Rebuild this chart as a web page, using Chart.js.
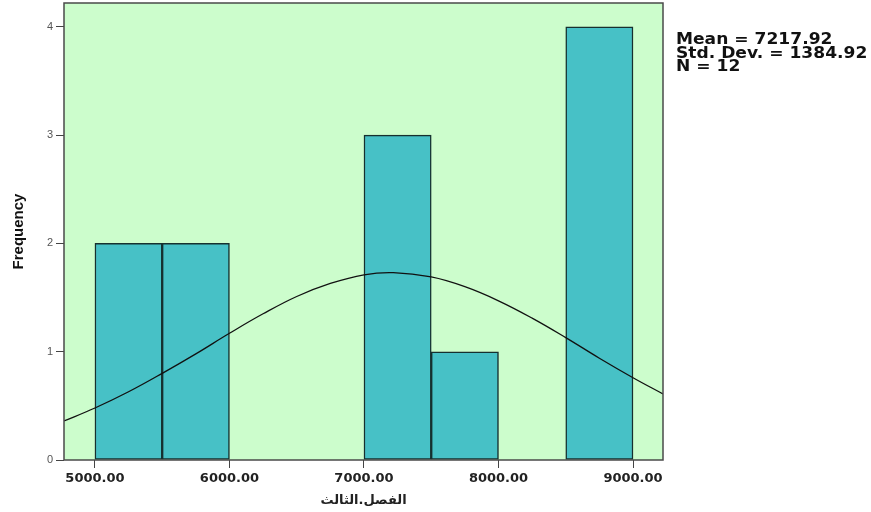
<!DOCTYPE html>
<html>
<head>
<meta charset="utf-8">
<script src="https://cdn.jsdelivr.net/npm/chart.js@4.4.1/dist/chart.umd.min.js"></script>
<style>
  html, body { margin: 0; padding: 0; background: #fff; }
  #wrap { position: relative; width: 871px; height: 512px; }
  #stats {
    position: absolute; left: 676px; top: 33px;
    font: bold 15px "DejaVu Sans", sans-serif; line-height: 13.5px;
    color: #111; white-space: nowrap;
    transform: scaleX(1.14); transform-origin: left top;
  }
</style>
</head>
<body>
<div id="wrap">
  <canvas id="grafico" width="871" height="512"></canvas>
  <div id="stats">Mean = 7217.92<br>Std. Dev. = 1384.92<br>N = 12</div>
</div>
<script>
// histogram bins (centre of each 500 wide bin) and counts
const binCentros = [5250, 5750, 7250, 7750, 8750];
const frecuencias = [2, 2, 3, 1, 4];
// normal curve, values
const curvaX = [4770, 5000, 5250, 5500, 5750, 6000, 6250, 6500, 6750, 7000, 7218, 7500, 7750, 8000, 8250, 8500, 8750, 9000, 9223];
const curvaY = [0.36, 0.48, 0.63, 0.80, 0.98, 1.17, 1.35, 1.51, 1.63, 1.71, 1.73, 1.69, 1.60, 1.47, 1.31, 1.13, 0.94, 0.76, 0.61];
const ticksX = [5000, 6000, 7000, 8000, 9000];
const ticksY = [0, 1, 2, 3, 4];
const tituloX = 'الفصل.الثالث';
const tituloY = 'Frequency';

const fondoPlot = {
  id: 'fondoPlot',
  beforeDatasetsDraw(chart) {
    const { ctx, chartArea: a } = chart;
    ctx.save();
    ctx.fillStyle = '#ccfdcc';
    ctx.fillRect(a.left, a.top, a.right - a.left, a.bottom - a.top);
    ctx.restore();
  },
  afterDraw(chart) {
    const { ctx, chartArea: a } = chart;
    ctx.save();
    ctx.strokeStyle = '#4a4a4a';
    ctx.lineWidth = 1.5;
    ctx.strokeRect(a.left, a.top, a.right - a.left, a.bottom - a.top);
    ctx.restore();
  }
};

const ctx = document.getElementById('grafico').getContext('2d');
const grafico = new Chart(ctx, {
  type: 'bar',
  data: {
    datasets: [
      {
        type: 'line',
        data: curvaX.map((x, i) => ({ x: x, y: curvaY[i] })),
        borderColor: '#111',
        borderWidth: 1.3,
        pointRadius: 0,
        tension: 0.4,
        fill: false,
        order: 0
      },
      {
        type: 'bar',
        data: binCentros.map((x, i) => ({ x: x, y: frecuencias[i] })),
        backgroundColor: '#47c1c6',
        borderColor: '#16302f',
        borderWidth: 1.5,
        borderSkipped: false,
        barPercentage: 1,
        categoryPercentage: 1,
        order: 1
      }
    ]
  },
  plugins: [fondoPlot],
  options: {
    responsive: false,
    animation: false,
    layout: { padding: { left: 0, top: 3, right: 208, bottom: 0 } },
    plugins: { legend: { display: false }, tooltip: { enabled: false } },
    scales: {
      x: {
        type: 'linear',
        offset: false,
        min: 4770,
        max: 9223,
        afterBuildTicks: (axis) => { axis.ticks = ticksX.map(v => ({ value: v })); },
        afterFit: (axis) => { axis.height = 52; axis.paddingLeft = 0; axis.paddingRight = 0; },
        grid: { offset: false, drawOnChartArea: false, drawTicks: true, tickLength: 8, color: '#444' },
        border: { display: false },
        ticks: {
          padding: 3,
          maxRotation: 0,
          color: '#222',
          font: { family: 'DejaVu Sans', size: 13, weight: 'bold' },
          callback: (v) => Number(v).toFixed(2)
        },
        title: {
          display: true,
          text: tituloX,
          color: '#222',
          padding: { top: 2, bottom: 4 },
          font: { family: 'DejaVu Sans', size: 13, weight: 'bold' }
        }
      },
      y: {
        min: 0,
        max: 4.22,
        afterBuildTicks: (axis) => { axis.ticks = ticksY.map(v => ({ value: v })); },
        afterFit: (axis) => { axis.width = 64; axis.paddingTop = 0; axis.paddingBottom = 0; },
        grid: { drawOnChartArea: false, drawTicks: true, tickLength: 8, color: '#444' },
        border: { display: false },
        ticks: {
          padding: 3,
          color: '#555',
          font: { family: 'Liberation Sans', size: 11 }
        },
        title: {
          display: true,
          text: tituloY,
          color: '#111',
          padding: { top: 10, bottom: 4 },
          font: { family: 'Liberation Sans', size: 15, weight: 'bold' }
        }
      }
    }
  }
});
</script>
</body>
</html>
